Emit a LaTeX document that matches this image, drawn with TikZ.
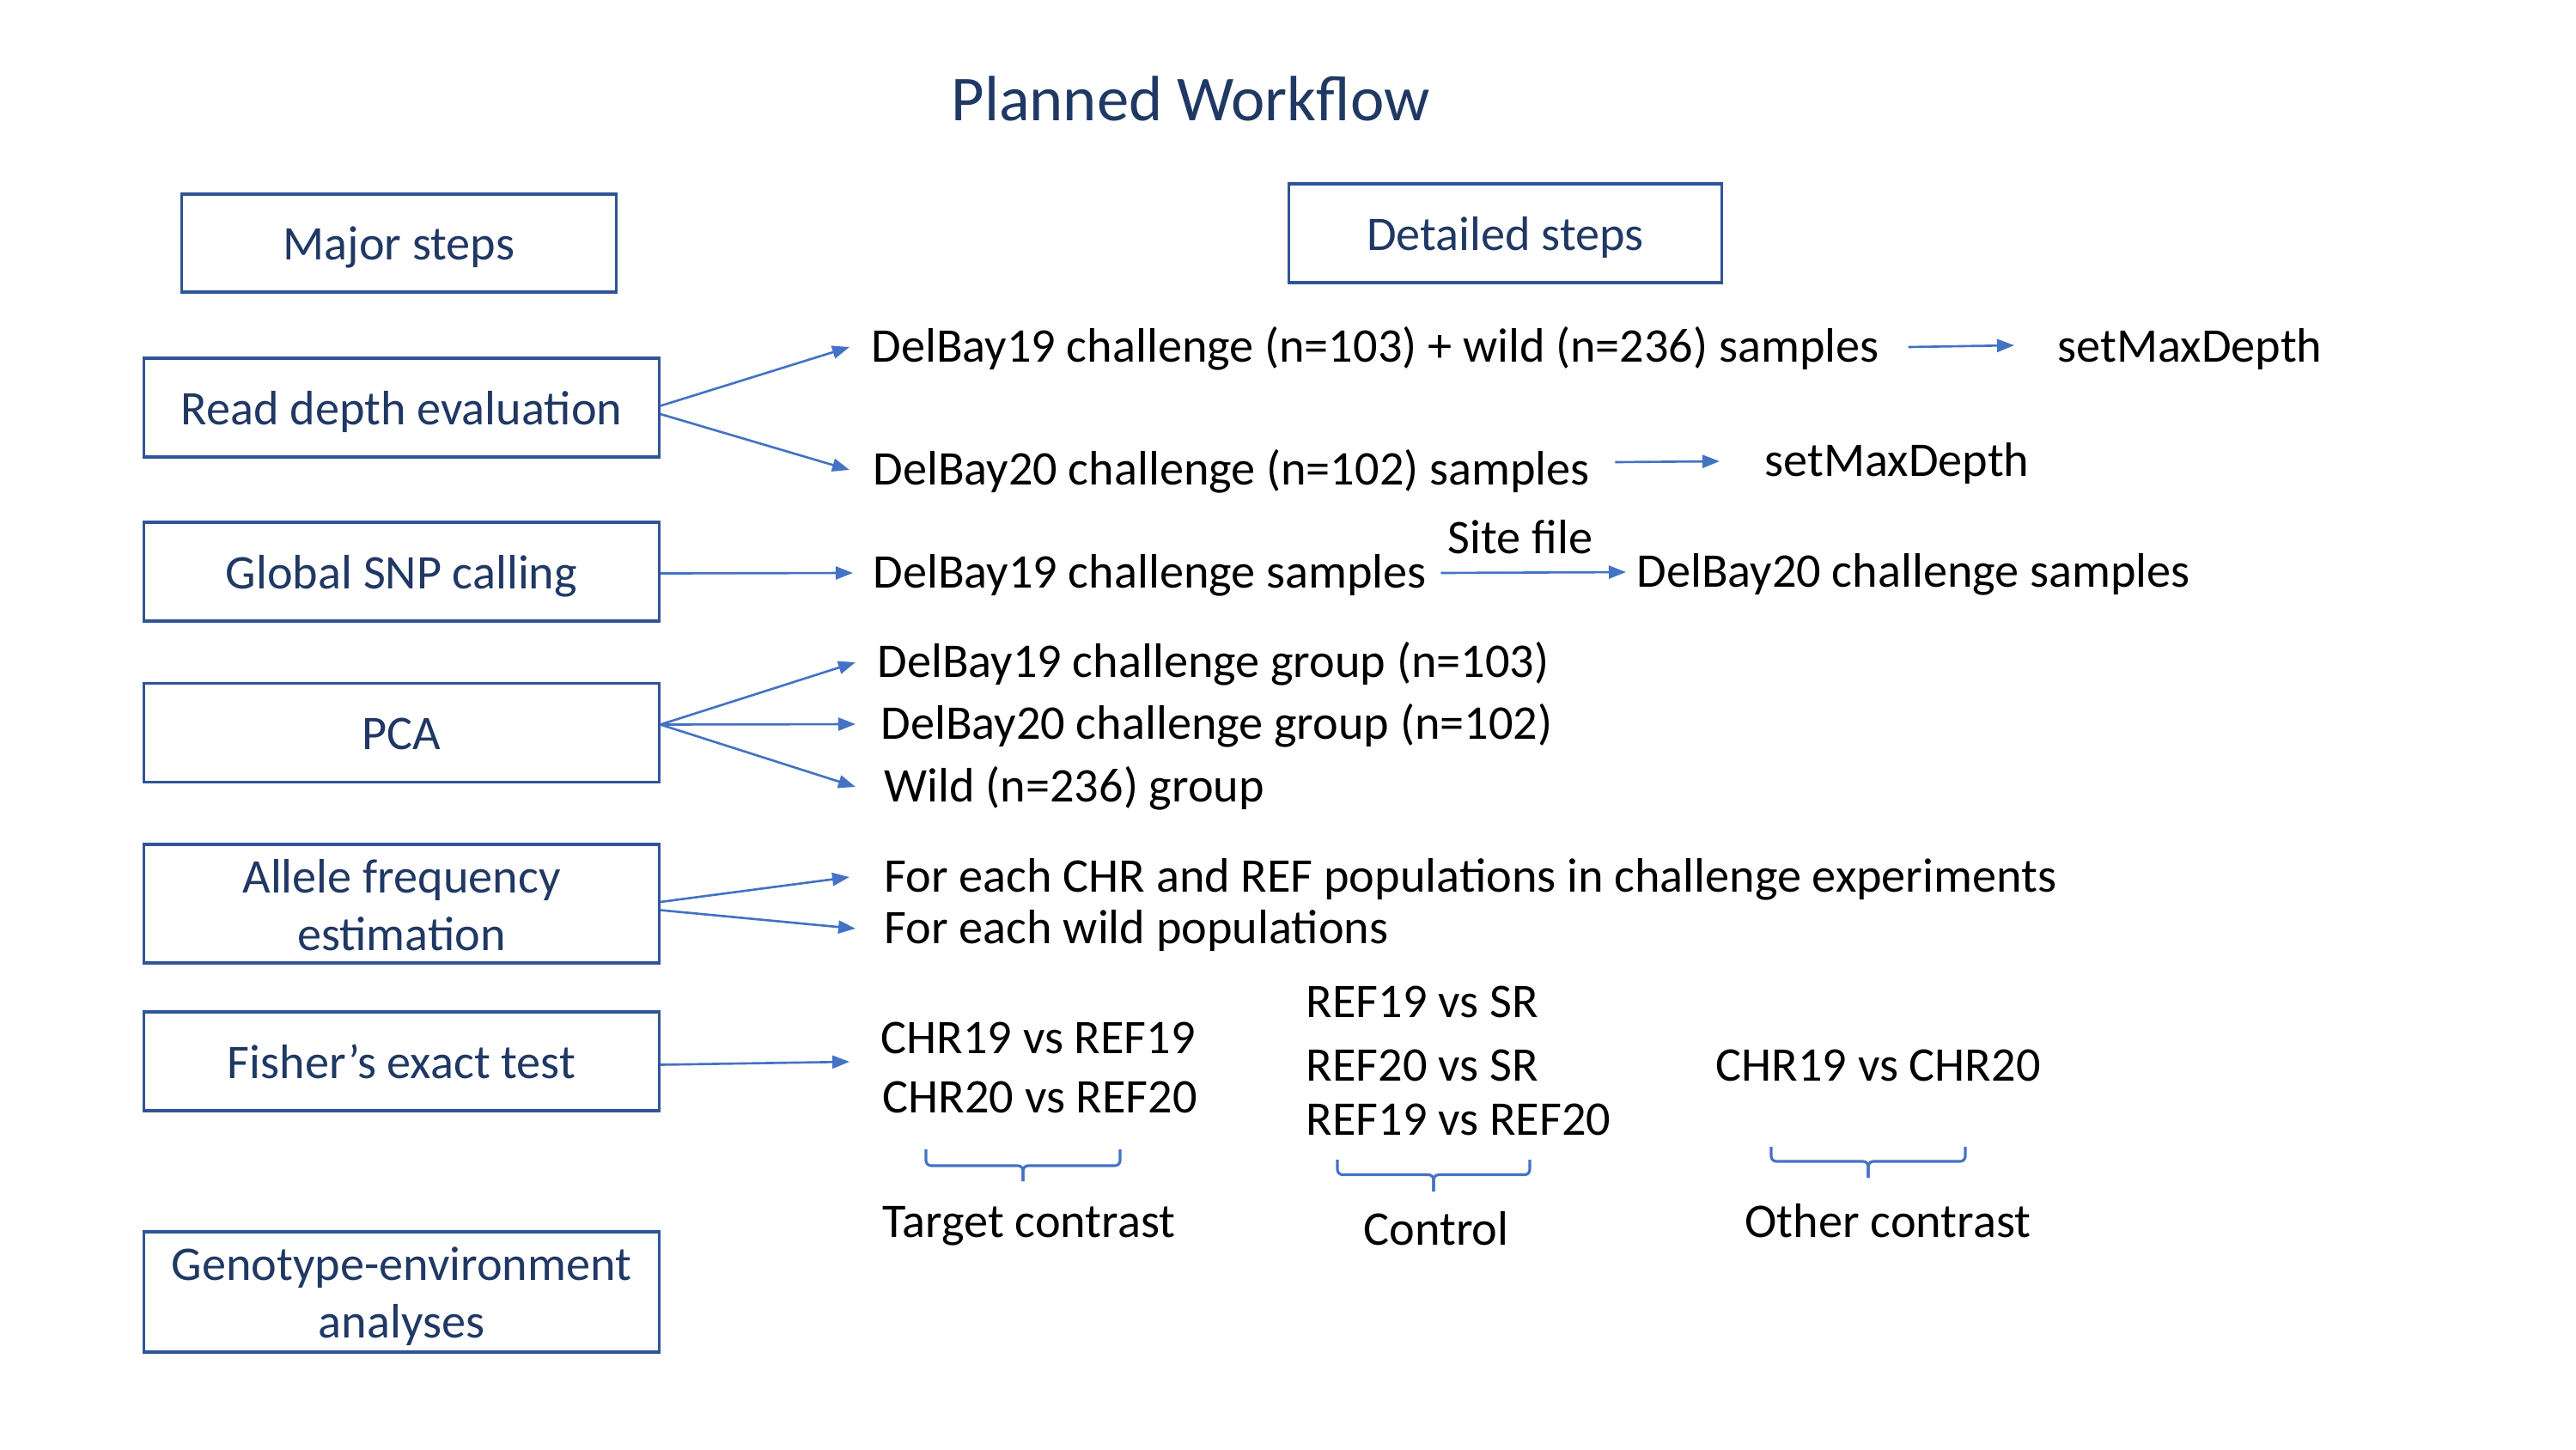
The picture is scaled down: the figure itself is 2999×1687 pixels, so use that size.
\documentclass[tikz,border=0pt]{standalone}
\usepackage{fontspec}
\setmainfont{Carlito}
\usetikzlibrary{arrows.meta,calc}
\definecolor{navy}{HTML}{203864}
\definecolor{boxblue}{HTML}{2F5597}
\definecolor{arrowblue}{HTML}{4472C4}
\begin{document}
\begin{tikzpicture}[x=0.01cm,y=-0.01cm,
 stepbox/.style={draw=boxblue,line width=0.9pt,minimum width=5.99cm,minimum height=1.15cm,text=navy,font=\fontsize{16}{18.5}\selectfont,align=center,inner sep=0},
 oneline/.style={text height=11.2pt,text depth=0pt},
 boxtxt/.style={text=navy,font=\fontsize{16}{19}\selectfont,align=center,inner sep=0},
 txt/.style={anchor=west,inner sep=0,font=\fontsize{16}{19}\selectfont,text height=10.2pt,text depth=0pt},
 arr/.style={draw=arrowblue,line width=0.75pt,-{Triangle[length=0.2cm,width=0.15cm]}},
 brace/.style={draw=arrowblue,line width=0.9pt,rounded corners=0.06cm}]
\useasboundingbox (0,0) rectangle (2999,1687);
\node[font=\fontsize{21.2}{25}\selectfont,text=navy,inner sep=0] (title) at (1386,115) {Planned Workflow};
% boxes
\node[stepbox,oneline,minimum width=5.05cm,minimum height=1.14cm] (major) at (464.5,283) {Major steps};
\node[stepbox,oneline,minimum width=5.03cm,minimum height=1.15cm] (detailed) at (1752.5,271.5) {Detailed steps};
\node[stepbox,oneline] (rd) at (467.5,474.5) {Read depth evaluation};
\node[stepbox,oneline] (snp) at (467.5,665.5) {Global SNP calling};
\node[stepbox,oneline] (pca) at (467.5,853) {PCA};
\node[stepbox,minimum height=1.38cm] (af) at (467.5,1052) {};
\node[boxtxt] (aft) at ([yshift=-0.02cm]af.center) {Allele frequency\\estimation};
\node[stepbox,oneline] (fisher) at (467.5,1235.5) {Fisher’s exact test};
\node[stepbox,minimum height=1.40cm] (gea) at (467.5,1504) {};
\node[boxtxt] (geat) at ([yshift=-0.055cm]gea.center) {Genotype-environment\\analyses};
% texts
\node[txt] (t1) at (1014,404) {DelBay19 challenge (n=103) + wild (n=236) samples};
\node[txt] (sm1) at (2395,404) {setMaxDepth};
\node[txt] (t2) at (1016,547) {DelBay20 challenge (n=102) samples};
\node[txt] (sm2) at (2054,537) {setMaxDepth};
\node[txt] (t3) at (1016,667) {DelBay19 challenge samples};
\node[txt] (t4) at (1905,666) {DelBay20 challenge samples};
\node[txt] (site) at (1685,627) {Site file};
\node[txt] (p1) at (1021,771) {DelBay19 challenge group (n=103)};
\node[txt] (p2) at (1025,843) {DelBay20 challenge group (n=102)};
\node[txt] (p3) at (1029,916) {Wild (n=236) group};
\node[txt] (a1) at (1029,1021) {For each CHR and REF populations in challenge experiments};
\node[txt] (a2) at (1029,1081) {For each wild populations};
\node[txt] (f1) at (1025,1209) {CHR19 vs REF19};
\node[txt] (f2) at (1027,1278) {CHR20 vs REF20};
\node[txt] (c1) at (1520,1167) {REF19 vs SR};
\node[txt] (c2) at (1520,1241) {REF20 vs SR};
\node[txt] (c3) at (1520,1304) {REF19 vs REF20};
\node[txt] (o1) at (1997,1241) {CHR19 vs CHR20};
\node[txt] (lt) at (1027,1423) {Target contrast};
\node[txt,anchor=center] (lc) at (1672,1432) {Control};
\node[txt] (lo) at (2031,1423) {Other contrast};
% arrows
\draw[arr] ([yshift=0.02cm]rd.east) -- ([xshift=-0.25cm]t1.west);
\draw[arr] ([yshift=-0.075cm]rd.east) -- ([xshift=-0.27cm]t2.west);
\draw[arr] ([xshift=0.33cm]t1.east) -- ([xshift=-0.50cm,yshift=0.02cm]sm1.west);
\draw[arr] ([xshift=0.29cm,yshift=0.09cm]t2.east) -- ([xshift=-0.52cm]sm2.west);
\draw[arr] ([yshift=-0.02cm]snp.east) -- ([xshift=-0.23cm]t3.west);
\draw[arr] ([xshift=0.16cm]t3.east) -- ([xshift=-0.12cm]t4.west);
\draw[arr] ([yshift=0.095cm]pca.east) -- ([xshift=-0.25cm]p1.west);
\draw[arr] ([yshift=0.095cm]pca.east) -- ([xshift=-0.29cm]p2.west);
\draw[arr] ([yshift=0.095cm]pca.east) -- ([xshift=-0.33cm]p3.west);
\draw[arr] ([yshift=0.02cm]af.east) -- ([xshift=-0.40cm]a1.west);
\draw[arr] ([yshift=-0.075cm]af.east) -- ([xshift=-0.33cm]a2.west);
\coordinate (fend) at (989,1236);
\draw[arr] ([yshift=-0.04cm]fisher.east) -- (fend);
% braces
\foreach \xa/\xb/\ya/\yb/\yc in {1078/1304/1338/1357/1375, 1557/1781/1350/1367.5/1387, 2062/2288/1335/1352/1371}{
  \pgfmathsetmacro{\xc}{(\xa+\xb)/2}
  \draw[brace] (\xa,\ya) -- (\xa,\yb) -- (\xc,\yb) -- (\xc,\yc);
  \draw[brace] (\xb,\ya) -- (\xb,\yb) -- (\xc,\yb) -- (\xc,\yc);
}
\end{tikzpicture}
\end{document}
